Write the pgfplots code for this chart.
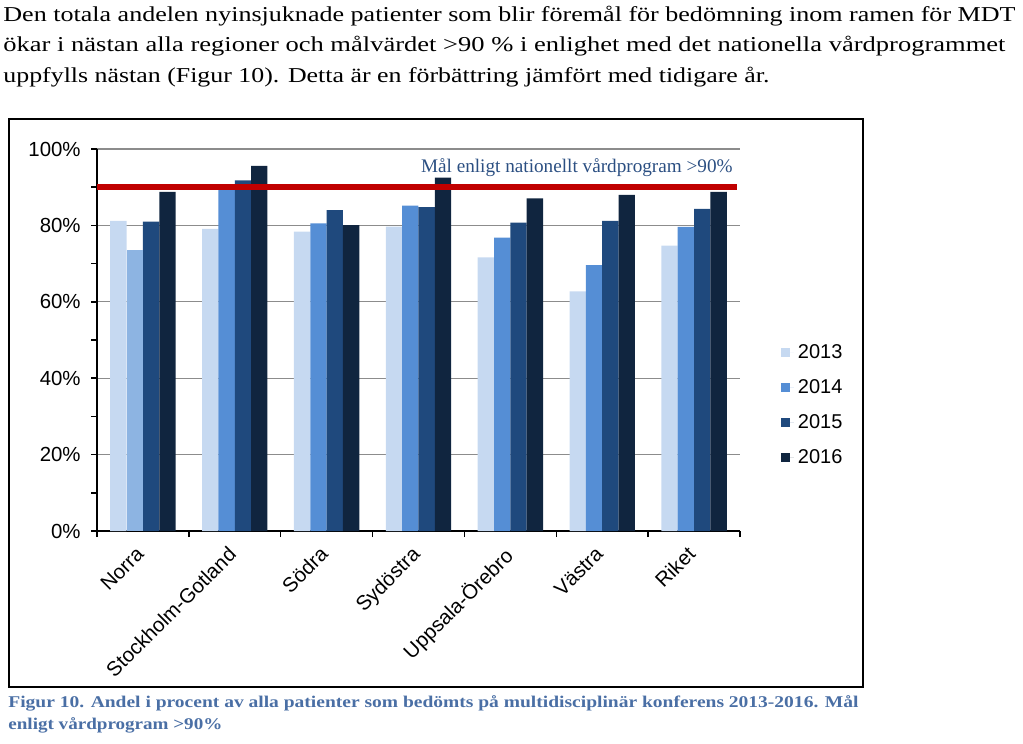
\documentclass[border=0pt]{standalone}
\usepackage{fontspec}
\setmainfont{Liberation Serif}
\newfontfamily\arial{Liberation Sans}
\usepackage{graphicx}
\usepackage{pgfplots}
\pgfplotsset{compat=1.18}
\definecolor{cA}{HTML}{C6D9F1}
\definecolor{cB}{HTML}{558ED5}
\definecolor{cBn}{HTML}{8DB4E2}
\definecolor{cC}{HTML}{1F497D}
\definecolor{cD}{HTML}{10253F}
\definecolor{redline}{HTML}{C00000}
\definecolor{gridgray}{HTML}{8C8C8C}
\definecolor{malblue}{HTML}{2B4F82}
\definecolor{capblue}{HTML}{4A6FA5}
\begin{document}
\begin{tikzpicture}
\useasboundingbox (0,0) rectangle (511.5pt,-372pt);
% paragraph text
\node[anchor=base west, inner sep=0] at (1.5pt,-10.5pt) {\resizebox{506pt}{\height}{\fontsize{10.6}{12}\selectfont Den totala andelen nyinsjuknade patienter som blir föremål för bedömning inom ramen för MDT}};
\node[anchor=base west, inner sep=0] at (1.5pt,-25.75pt) {\resizebox{501pt}{\height}{\fontsize{10.6}{12}\selectfont ökar i nästan alla regioner och målvärdet >90 \% i enlighet med det nationella vårdprogrammet}};
\node[anchor=base west, inner sep=0] at (1.5pt,-41pt) {\resizebox{383pt}{\height}{\fontsize{10.6}{12}\selectfont uppfylls nästan (Figur 10). Detta är en förbättring jämfört med tidigare år.}};
% frame
\draw[line width=1pt] (4.25pt,-59.5pt) rectangle (431.5pt,-343.5pt);
% caption
\node[anchor=base west, inner sep=0, text=capblue] at (4pt,-353.5pt) {\resizebox{425pt}{\height}{\fontsize{8.2}{10}\selectfont\bfseries Figur 10. Andel i procent av alla patienter som bedömts på multidisciplinär konferens 2013-2016. Mål}};
\node[anchor=base west, inner sep=0, text=capblue] at (4pt,-364.5pt) {\resizebox{107pt}{\height}{\fontsize{8.2}{10}\selectfont\bfseries enligt vårdprogram >90\%}};
\begin{axis}[
  at={(48.5pt,-265.5pt)}, anchor=south west,
  scale only axis, width=321.5pt, height=191pt,
  xmin=-0.5, xmax=6.5, ymin=0, ymax=100,
  axis x line*=bottom, axis y line*=left,
  axis line style={-, line width=0.75pt, black},
  ytick={0,20,40,60,80,100},
  yticklabels={0\%,20\%,40\%,60\%,80\%,100\%},
  minor ytick={10,30,50,70,90},
  ymajorgrids, grid style={color=gridgray, line width=0.6pt},
  tick align=outside, major tick length=3pt, minor tick length=3pt,
  tick style={black, line width=0.75pt},
  xtick={0,1,2,3,4,5,6},
  xticklabels={Norra,Stockholm-Gotland,Södra,Sydöstra,Uppsala-Örebro,Västra,Riket},
  major x tick style={draw=none},
  minor xtick={-0.5,0.5,1.5,2.5,3.5,4.5,5.5,6.5},
  ticklabel style={font=\arial\fontsize{10.2}{11}\selectfont},
  xticklabel style={rotate=45, anchor=north east, inner sep=0pt, xshift=-5.6pt, yshift=0pt},
  yticklabel style={inner sep=0pt, xshift=-5pt},
  legend style={draw=none, fill=none, at={(1.063,0.5)}, anchor=north west,
    font=\arial\fontsize{10}{11}\selectfont, row sep=5pt, inner sep=0pt},
  legend cell align=left,
  legend image code/.code={\fill[#1] (0pt,-2.25pt) rectangle (4.5pt,2.25pt); \path (0pt,0pt) -- (6.5pt,0pt);},
  clip=false,
]
\addplot[ybar, bar width=0.178, bar shift=-0.267, fill=cA, draw=none] coordinates {(0,81.2) (1,79.1) (2,78.4) (3,79.7) (4,71.6) (5,62.7) (6,74.7)};
\addlegendentry{2013}
\addplot[ybar, bar width=0.178, bar shift=-0.089, fill=cB, draw=none] coordinates {(1,90.1) (2,80.5) (3,85.2) (4,76.8) (5,69.6) (6,79.6)};
\addlegendentry{2014}
\addplot[ybar, bar width=0.178, bar shift=0.089, fill=cC, draw=none] coordinates {(0,81.0) (1,91.8) (2,84.0) (3,84.8) (4,80.7) (5,81.2) (6,84.3)};
\addlegendentry{2015}
\addplot[ybar, bar width=0.178, bar shift=0.267, fill=cD, draw=none] coordinates {(0,88.8) (1,95.6) (2,80.1) (3,92.5) (4,87.1) (5,88.0) (6,88.8)};
\addlegendentry{2016}
\addplot[ybar, bar width=0.178, bar shift=-0.089, fill=cBn, draw=none, forget plot] coordinates {(0,73.6)};
\addplot[redline, line width=3pt, forget plot] coordinates {(-0.5,90) (6.47,90)};
\end{axis}
\node[anchor=base east, inner sep=0, text=malblue] at (366.5pt,-86.2pt) {\fontsize{9.6}{10}\selectfont Mål enligt nationellt vårdprogram >90\%};
\end{tikzpicture}
\end{document}
